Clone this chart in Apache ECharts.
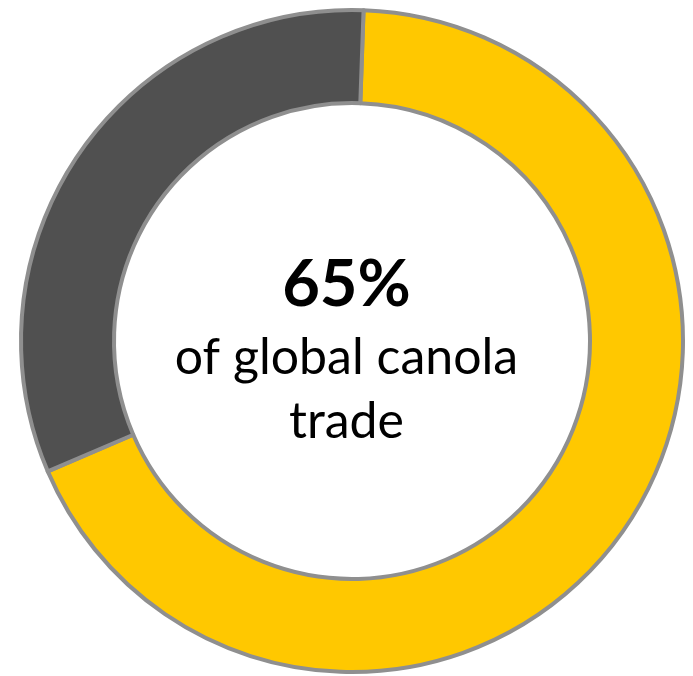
<!DOCTYPE html>
<html>
<head>
<meta charset="utf-8">
<script src="https://cdn.jsdelivr.net/npm/echarts@6/dist/echarts.min.js"></script>
<style>
html,body{margin:0;padding:0;background:#ffffff;}
#chart{width:693px;height:676px;}
</style>
</head>
<body>
<div id="chart"></div>
<script>
const categories = ['Share of global canola trade', 'Rest of world'];
const values = [68, 32];
const colors = ['#FFC800', '#505050'];
const headline = '65%';
const subLines = ['of global canola', 'trade'];

const chart = echarts.init(document.getElementById('chart'), null, {renderer: 'canvas'});
chart.setOption({
  animation: false,
  backgroundColor: '#ffffff',
  series: [{
    type: 'pie',
    center: [352, 341],
    radius: [238, 331],
    startAngle: 88,
    clockwise: true,
    silent: true,
    label: {show: false},
    labelLine: {show: false},
    itemStyle: {borderColor: '#8f8f8f', borderWidth: 4},
    data: categories.map((c, i) => ({name: c, value: values[i], itemStyle: {color: colors[i]}}))
  }],
  graphic: [
    {type: 'text', left: 'center', top: 253, style: {text: headline, fontFamily: 'Lato', fontWeight: 'bold', fontSize: 65, fill: '#000000'}},
    {type: 'text', left: 'center', top: 333, style: {text: subLines[0], fontFamily: 'Lato', fontSize: 50, fill: '#000000'}},
    {type: 'text', left: 'center', top: 397, style: {text: subLines[1], fontFamily: 'Lato', fontSize: 50, fill: '#000000'}}
  ]
});
</script>
</body>
</html>
